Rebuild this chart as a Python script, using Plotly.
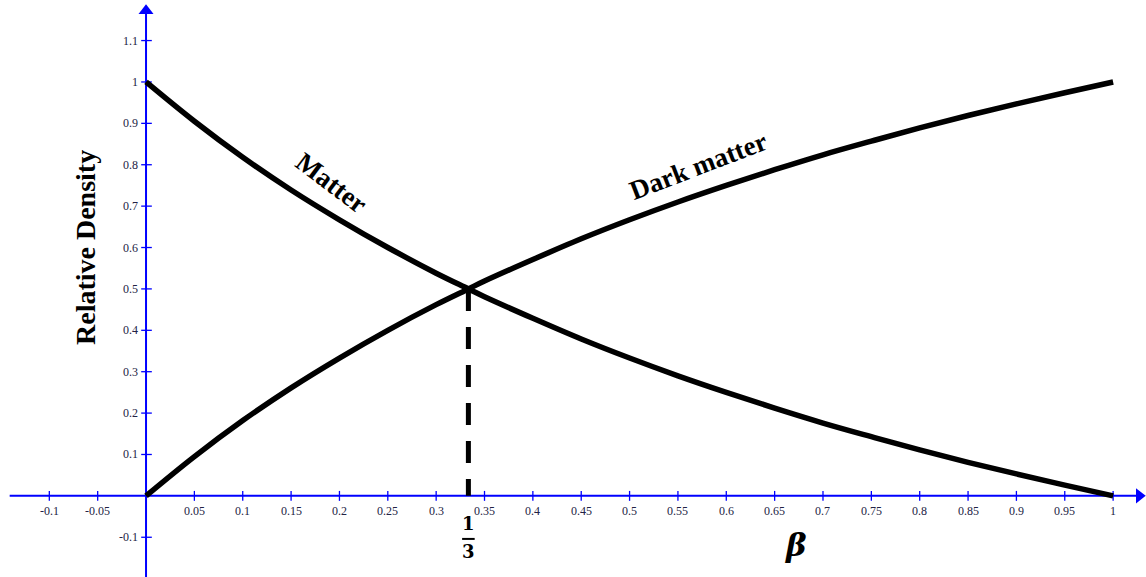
import plotly.graph_objects as go

# ---- data ----
beta = [0.0, 0.05, 0.1, 0.15, 0.2, 0.25, 0.3, 1/3, 0.35, 0.4, 0.45, 0.5,
        0.55, 0.6, 0.65, 0.7, 0.75, 0.8, 0.85, 0.9, 0.95, 1.0]
dark_matter = [0.0, 0.095, 0.182, 0.261, 0.333, 0.400, 0.462, 0.500, 0.519,
               0.571, 0.621, 0.667, 0.710, 0.750, 0.788, 0.824, 0.857, 0.889,
               0.919, 0.947, 0.974, 1.0]
matter = [1.0, 0.905, 0.818, 0.739, 0.667, 0.600, 0.538, 0.500, 0.481,
          0.429, 0.379, 0.333, 0.290, 0.250, 0.212, 0.176, 0.143, 0.111,
          0.081, 0.053, 0.026, 0.0]
x_ticks = [-0.1, -0.05, 0.05, 0.1, 0.15, 0.2, 0.25, 0.3, 0.35, 0.4, 0.45, 0.5,
           0.55, 0.6, 0.65, 0.7, 0.75, 0.8, 0.85, 0.9, 0.95, 1.0]
x_tick_labels = ["-0.1", "-0.05", "0.05", "0.1", "0.15", "0.2", "0.25", "0.3",
                 "0.35", "0.4", "0.45", "0.5", "0.55", "0.6", "0.65", "0.7",
                 "0.75", "0.8", "0.85", "0.9", "0.95", "1"]
y_ticks = [-0.1, 0.1, 0.2, 0.3, 0.4, 0.5, 0.6, 0.7, 0.8, 0.9, 1.0, 1.1]
y_tick_labels = ["-0.1", "0.1", "0.2", "0.3", "0.4", "0.5", "0.6", "0.7",
                 "0.8", "0.9", "1", "1.1"]
crossing = (1/3, 0.5)

XR = [-0.151, 1.034]
YR = [-0.196, 1.198]
BLUE = "#0000FF"
SERIF = "Liberation Serif"

fig = go.Figure()

# axes lines
fig.add_trace(go.Scatter(x=[-0.141, 1.026], y=[0, 0], mode="lines",
                         line=dict(color=BLUE, width=2), hoverinfo="skip"))
fig.add_trace(go.Scatter(x=[0, 0], y=[YR[0], 1.17], mode="lines",
                         line=dict(color=BLUE, width=2), hoverinfo="skip"))
# arrows
fig.add_trace(go.Scatter(x=[1.027], y=[0], mode="markers",
                         marker=dict(symbol="triangle-right", size=13, color=BLUE),
                         hoverinfo="skip"))
fig.add_trace(go.Scatter(x=[0], y=[1.172], mode="markers",
                         marker=dict(symbol="triangle-up", size=13, color=BLUE),
                         hoverinfo="skip"))

# tick marks
tx, ty = [], []
for v in x_ticks:
    tx += [v, v, None]
    ty += [-0.012, 0.012, None]
for v in y_ticks:
    tx += [-0.005, 0.006, None]
    ty += [v, v, None]
fig.add_trace(go.Scatter(x=tx, y=ty, mode="lines",
                         line=dict(color=BLUE, width=1.3), hoverinfo="skip"))

# curves
fig.add_trace(go.Scatter(x=beta, y=matter, mode="lines", line_shape="spline",
                         line=dict(color="black", width=5.5), hoverinfo="skip"))
fig.add_trace(go.Scatter(x=beta, y=dark_matter, mode="lines", line_shape="spline",
                         line=dict(color="black", width=5.5), hoverinfo="skip"))
# dashed drop line
fig.add_trace(go.Scatter(x=[crossing[0], crossing[0]], y=[crossing[1], 0],
                         mode="lines",
                         line=dict(color="black", width=5, dash="22px,16px"),
                         hoverinfo="skip"))

ann = []
for v, t in zip(x_ticks, x_tick_labels):
    ann.append(dict(x=v, y=0, text=t, showarrow=False, yshift=-15,
                    font=dict(family=SERIF, size=12, color="#222244")))
for v, t in zip(y_ticks, y_tick_labels):
    ann.append(dict(x=0, y=v, text=t, showarrow=False, xanchor="right",
                    xshift=-6, font=dict(family=SERIF, size=12, color="#222244")))

ann += [
    dict(x=0.192, y=0.756, text="<b>Matter</b>", textangle=37, showarrow=False,
         font=dict(family=SERIF, size=27, color="black")),
    dict(x=0.571, y=0.797, text="<b>Dark matter</b>", textangle=-21, showarrow=False,
         font=dict(family=SERIF, size=27, color="black")),
    dict(x=-0.062, y=0.599, text="<b>Relative Density</b>", textangle=-90,
         showarrow=False, font=dict(family=SERIF, size=28, color="black")),
    dict(x=0.672, y=-0.118, text="<b><i>β</i></b>", showarrow=False,
         font=dict(family="DejaVu Serif", size=31, color="black")),
    dict(x=crossing[0], y=-0.066, text="<b>1</b>", showarrow=False,
         font=dict(family="DejaVu Serif", size=18, color="black")),
    dict(x=crossing[0], y=-0.135, text="<b>3</b>", showarrow=False,
         font=dict(family="DejaVu Serif", size=18, color="black")),
]

fig.add_shape(type="line", x0=crossing[0] - 0.0065, x1=crossing[0] + 0.0065,
              y0=-0.104, y1=-0.104, line=dict(color="black", width=2))

fig.update_layout(
    width=1146, height=577,
    margin=dict(l=0, r=0, t=0, b=0),
    paper_bgcolor="white", plot_bgcolor="white",
    showlegend=False,
    xaxis=dict(range=XR, visible=False, fixedrange=True),
    yaxis=dict(range=YR, visible=False, fixedrange=True),
    annotations=ann,
)

fig.write_html("out.html", config={"displayModeBar": False},
               post_script="document.body.style.margin='0';document.body.style.overflow='hidden';")
